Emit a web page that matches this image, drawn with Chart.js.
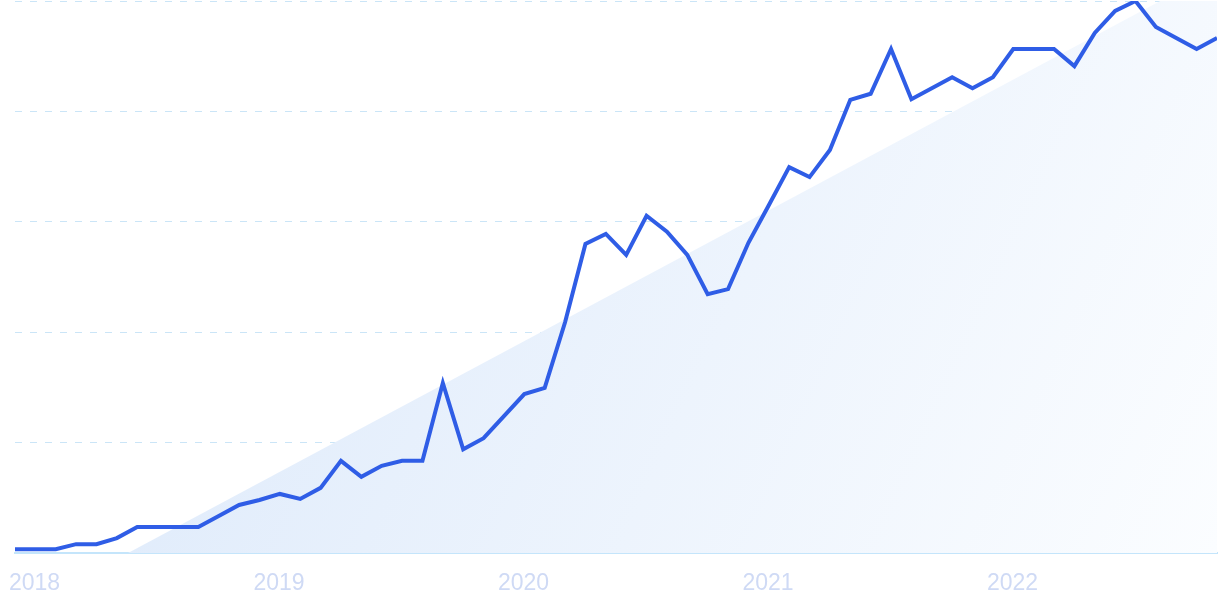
<!DOCTYPE html>
<html>
<head>
<meta charset="utf-8">
<script src="https://cdn.jsdelivr.net/npm/chart.js@4/dist/chart.umd.min.js"></script>
<style>
  html, body { margin: 0; padding: 0; background: #fff; }
  #wrap { width: 1222px; height: 610px; }
</style>
</head>
<body>
<div id="wrap"><canvas id="chart"></canvas></div>
<script>
// monthly index, Jan 2018 = 0
const years = [2018, 2019, 2020, 2021, 2022];
const values = [
  0.7, 0.7, 0.7, 1.6, 1.6, 2.7, 4.7, 4.7, 4.7, 4.7, 6.7, 8.7,
  9.6, 10.7, 9.8, 11.8, 16.7, 13.8, 15.8, 16.7, 16.7, 30.8, 18.8, 20.8,
  24.8, 28.8, 29.9, 41.8, 56.0, 57.8, 54.0, 61.1, 58.2, 54.0, 46.9, 47.8,
  56.2, 63.0, 69.9, 68.1, 73.0, 82.1, 83.2, 91.3, 82.2, 84.2, 86.2, 84.2,
  86.2, 91.3, 91.3, 91.3, 88.2, 94.2, 98.2, 100, 95.3, 93.3, 91.3, 93.3
];
// trend band: start / end points
const trendX = [5.55, 59];
const trendY = [0, 105.5];

const ctx = document.getElementById('chart');

new Chart(ctx, {
  type: 'line',
  data: {
    datasets: [
      {
        data: trendX.map((x, i) => ({ x: x, y: trendY[i] })),
        borderWidth: 0,
        pointRadius: 0,
        fill: 'start',
        backgroundColor: (c) => {
          const a = c.chart.chartArea;
          if (!a) return '#e6effc';
          const g = c.chart.ctx.createLinearGradient(a.left, a.top, a.right, a.bottom);
          g.addColorStop(0, '#d9e7fa');
          g.addColorStop(1, '#fbfdff');
          return g;
        },
        order: 2
      },
      {
        data: values.map((v, i) => ({ x: i, y: v })),
        borderColor: '#2f5de6',
        borderWidth: 4,
        pointRadius: 0,
        tension: 0,
        fill: false,
        order: 1
      }
    ]
  },
  options: {
    responsive: true,
    maintainAspectRatio: false,
    animation: false,
    layout: { padding: { left: 15, right: 5, top: 1, bottom: 0 } },
    plugins: { legend: { display: false }, tooltip: { enabled: false } },
    scales: {
      x: {
        type: 'linear',
        min: 0,
        max: 59,
        z: 1,
        grid: { display: false, drawTicks: false },
        border: { display: true, color: '#c4e5fb', width: 2 },
        afterFit: (s) => { s.height = 57; s.paddingLeft = 0; s.paddingRight = 0; },
        ticks: {
          stepSize: 12,
          autoSkip: false,
          maxRotation: 0,
          align: 'start',
          labelOffset: -6,
          padding: 17,
          color: '#cfdaf5',
          font: { family: 'Liberation Sans', size: 23 },
          callback: (v) => (v % 12 === 0 ? String(years[v / 12]) : '')
        }
      },
      y: {
        min: 0,
        max: 100,
        ticks: { display: false, stepSize: 20 },
        border: { display: false, dash: [7, 8] },
        grid: {
          drawTicks: false,
          color: (c) => (c.tick.value === 0 ? 'rgba(0,0,0,0)' : '#cbe5f7'),
          lineWidth: 1
        }
      }
    }
  }
});
</script>
</body>
</html>
